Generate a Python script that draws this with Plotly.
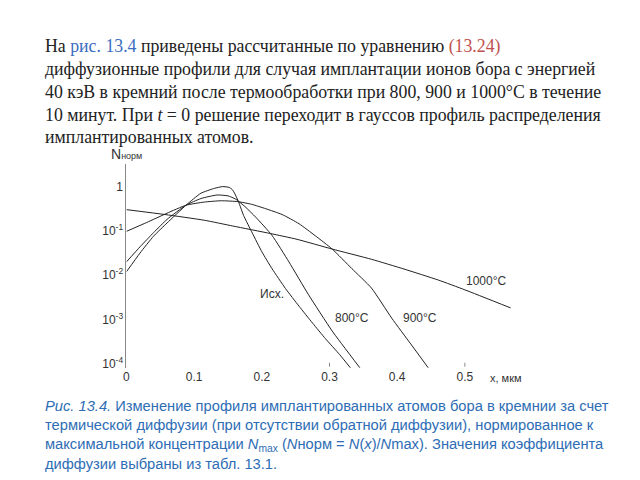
import plotly.graph_objects as go

# depth, um
x_init = [0, 0.02, 0.04, 0.06, 0.088, 0.11, 0.13, 0.142, 0.152, 0.157, 0.162, 0.167, 0.173,
          0.186, 0.2, 0.215, 0.235, 0.255, 0.275, 0.294, 0.315, 0.331]
n_init = [0.012, 0.0316, 0.0759, 0.151, 0.380, 0.708, 0.912, 1.0, 0.955, 0.832, 0.603, 0.398, 0.224,
          0.0891, 0.0339, 0.0141, 0.0050, 0.0020, 8.3e-4, 3.7e-4, 1.62e-4, 8.1e-5]

x_800 = [0, 0.02, 0.04, 0.06, 0.088, 0.11, 0.134, 0.15, 0.161, 0.175, 0.191, 0.215,
         0.24, 0.269, 0.304, 0.345]
n_800 = [0.020, 0.0437, 0.0912, 0.182, 0.380, 0.537, 0.646, 0.617, 0.525, 0.355, 0.204, 0.0794,
         0.020, 0.00363, 5.5e-4, 8.1e-5]

x_900 = [0, 0.03, 0.06, 0.088, 0.115, 0.14, 0.165, 0.185, 0.206, 0.23, 0.255, 0.279,
         0.304, 0.333, 0.362, 0.392, 0.42, 0.446]
n_900 = [0.0977, 0.155, 0.251, 0.380, 0.447, 0.479, 0.457, 0.398, 0.316, 0.234, 0.145, 0.0776,
         0.0389, 0.0141, 0.00513, 0.00107, 2.82e-4, 8.1e-5]

x_1000 = [0, 0.057, 0.115, 0.157, 0.213, 0.252, 0.304, 0.362, 0.41, 0.461, 0.5, 0.568]
n_1000 = [0.302, 0.234, 0.174, 0.129, 0.0871, 0.0646, 0.0389, 0.0229, 0.0138, 0.00776,
          0.00468, 0.00182]

x_ticks = [0, 0.1, 0.2, 0.3, 0.4, 0.5]
x_ticktext = ["0", "0.1", "0.2", "0.3", "0.4", "0.5"]
y_ticks = [1, 1e-1, 1e-2, 1e-3, 1e-4]
y_ticktext = ["1", "10<sup>-1</sup>", "10<sup>-2</sup>", "10<sup>-3</sup>", "10<sup>-4</sup>"]

curve_labels = ["Исх.", "800°C", "900°C", "1000°C"]

paragraph = [
    'На <span style="color:#3b6cc0">рис. 13.4</span> приведены рассчитанные по уравнению '
    '<span style="color:#c0504d">(13.24)</span>',
    "диффузионные профили для случая имплантации ионов бора с энергией",
    "40 кэВ в кремний после термообработки при 800, 900 и 1000°C в течение",
    "10 минут. При <i>t</i> = 0 решение переходит в гауссов профиль распределения",
    "имплантированных атомов.",
]
caption = [
    "<i>Рис. 13.4.</i> Изменение профиля имплантированных атомов бора в кремнии за счет",
    "термической диффузии (при отсутствии обратной диффузии), нормированное к",
    "максимальной концентрации <i>N</i><sub>max</sub> (<i>N</i>норм = <i>N</i>(<i>x</i>)/<i>N</i>max). "
    "Значения коэффициента",
    "диффузии выбраны из табл. 13.1.",
]

W, H = 640, 480
OFF = 8  # page body margin


def px(x):
    return (x - OFF) / W


def py(y):
    return 1 - (y - OFF) / H


fig = go.Figure()
for xs, ns in [(x_init, n_init), (x_800, n_800), (x_900, n_900), (x_1000, n_1000)]:
    fig.add_trace(go.Scatter(x=xs, y=ns, mode="lines",
                             line=dict(color="#222", width=1, shape="spline", smoothing=0.5),
                             showlegend=False, hoverinfo="skip"))

ann = []
for i, t in enumerate(paragraph):
    ann.append(dict(x=px(40), y=py(47 + i * 22.8), text=t, xanchor="left", yanchor="middle",
                    font=dict(family="Liberation Serif", size=17.8, color="#222")))
for i, t in enumerate(caption):
    ann.append(dict(x=px(40), y=py(408.5 + i * 19.5), text=t, xanchor="left", yanchor="middle",
                    font=dict(family="Liberation Sans", size=14.7, color="#2e6db5")))

label_pos = [(256, 296), (332, 320), (400, 320), (463, 283)]
for t, (lx, ly) in zip(curve_labels, label_pos):
    ann.append(dict(x=px(lx), y=py(ly), text=t, xanchor="left", yanchor="middle",
                    font=dict(family="Liberation Sans", size=12, color="#333")))
ann.append(dict(x=px(106), y=py(155), text='N<span style="font-size:9px">норм</span>',
                xanchor="left", yanchor="middle", font=dict(family="Liberation Sans", size=14, color="#333")))
ann.append(dict(x=px(487), y=py(380), text="x, мкм", xanchor="left", yanchor="middle",
                font=dict(family="Liberation Sans", size=11, color="#333")))
for a in ann:
    a.update(xref="paper", yref="paper", showarrow=False)

shapes = [
    dict(type="line", xref="x", yref="paper", x0=0.3, x1=0.3, y0=py(369), y1=py(365), line=dict(color="#888", width=1)),
    dict(type="line", xref="x", yref="paper", x0=0.5, x1=0.5, y0=py(369), y1=py(365), line=dict(color="#888", width=1)),
    dict(type="line", xref="paper", yref="y", x0=px(124), x1=px(129), y0=0, y1=0, line=dict(color="#888", width=1)),
]

fig.update_layout(
    width=W, height=H,
    margin=dict(l=0, r=0, t=0, b=0),
    paper_bgcolor="white", plot_bgcolor="white",
    annotations=ann, shapes=shapes,
    xaxis=dict(domain=[px(124), px(510)], range=[0, 0.5676], tickvals=x_ticks, ticktext=x_ticktext,
               showgrid=False, zeroline=False, showline=False, ticks="",
               tickfont=dict(family="Liberation Sans", size=12, color="#333")),
    yaxis=dict(domain=[py(370), py(165)], type="log", range=[-4.087, 0.509], tickvals=y_ticks,
               ticktext=y_ticktext, showgrid=False, zeroline=False, showline=True, linecolor="#888",
               linewidth=1, ticks="", tickfont=dict(family="Liberation Sans", size=12, color="#333")),
)

fig.write_html("out.html")
